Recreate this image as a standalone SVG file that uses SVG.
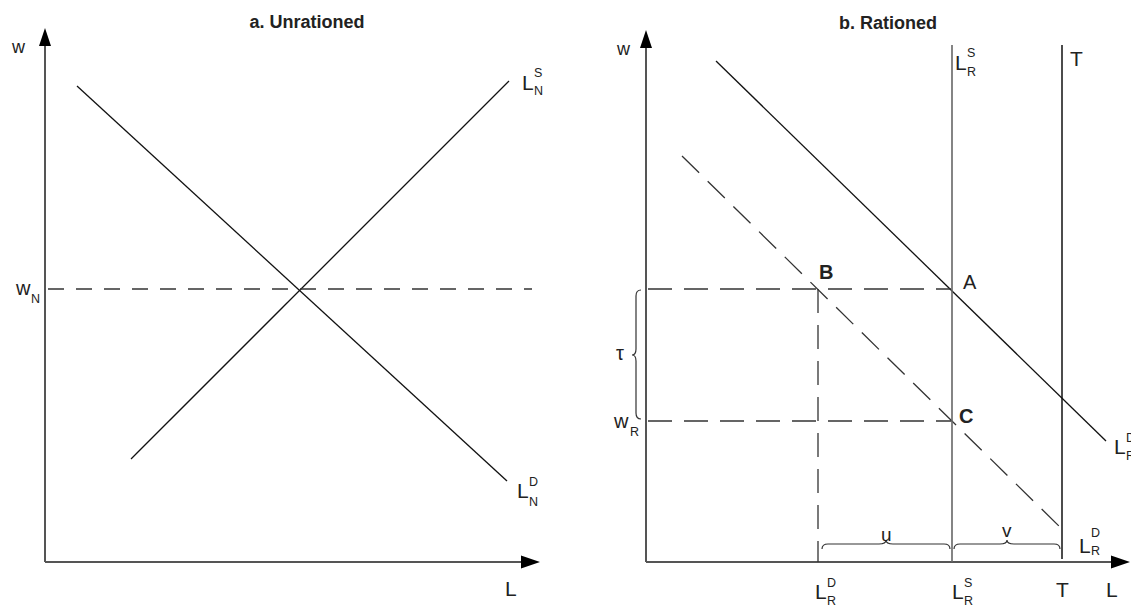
<svg xmlns="http://www.w3.org/2000/svg" width="1131" height="608" viewBox="0 0 1131 608">
<style>
text{font-family:"Liberation Sans",Arial,sans-serif;fill:#222}
.t{font-weight:bold;font-size:18px;text-anchor:middle}
.L{font-size:21px}
.s{font-size:12.5px}
.w{font-size:20px}
.ax{stroke:#555;stroke-width:2;fill:none}
.ln{stroke:#111;stroke-width:1.3;fill:none}
.gv{stroke:#666;stroke-width:1.6;fill:none}
.ds{stroke:#333;stroke-width:1.3;fill:none;stroke-dasharray:24 12}
.br{stroke:#333;stroke-width:1.2;fill:none}
.ah{fill:#000}
</style>
<rect width="1131" height="608" fill="#fff"/>
<g id="titles">
<text class="t" x="307" y="28">a. Unrationed</text>
<text class="t" x="888" y="29">b. Rationed</text>
</g>
<g id="axes-a">
<path class="ax" d="M45,562 V44 M45,562 H522"/>
<path class="ah" d="M45,28 L39,46 L51,46 Z M540,562 L521,555.5 L521,568.5 Z"/>
<text x="12" y="53" style="font-size:18px">w</text>
<text class="L" x="505" y="596">L</text>
</g>
<g id="axes-b">
<path class="ax" d="M646,562 V46 M646,562 H1112"/>
<path class="ah" d="M646,30 L640,48 L652,48 Z M1130,562 L1111,555.5 L1111,568.5 Z"/>
<text x="617" y="55" style="font-size:18px">w</text>
<text class="L" x="1106" y="597">L</text>
</g>
<g id="connectors">
<path class="ln" d="M131,459 L509,81"/>
<path class="ln" d="M77,86 L507,481"/>
<path class="ds" d="M48,289 H532" style="stroke-dasharray:16 12"/>
<path class="ln" d="M716,61 L1106,441"/>
<path class="ds" d="M682,156 L1065,532"/>
<path class="ds" d="M648,289 H951"/>
<path class="ds" d="M648,421 H951"/>
<path class="ds" d="M818,289 V562"/>
<path class="gv" d="M952,45 V562"/>
<path class="ln" d="M1062,45 V559" style="stroke-width:1.5"/>
<path class="br" d="M641,290 q-5,0 -5,6 V349 q0,6 -4,6 q4,0 4,6 V413 q0,6 5,6"/>
<path class="br" d="M822,549 q0,-5 6,-5 H879 q7,0 7,-4 q0,4 7,4 H944 q6,0 6,5"/>
<path class="br" d="M954,549 q0,-5 6,-5 H1000 q7,0 7,-4 q0,4 7,4 H1054 q6,0 6,5"/>
</g>
<g id="label-LSN"><text class="L" x="522" y="90">L</text><text class="s" x="534" y="77">S</text><text class="s" x="534" y="95">N</text></g>
<g id="label-LDN"><text class="L" x="517" y="498">L</text><text class="s" x="529" y="486">D</text><text class="s" x="529" y="506">N</text></g>
<g id="label-wN"><text class="w" x="16" y="295">w</text><text class="s" x="31" y="303">N</text></g>
<g id="label-LSR-top"><text class="L" x="955" y="70">L</text><text class="s" x="967" y="57">S</text><text class="s" x="967" y="76">R</text></g>
<g id="label-T-top"><text class="L" x="1070" y="66">T</text></g>
<g id="label-LDR-solid"><text class="L" x="1114" y="454">L</text><text class="s" x="1126" y="442">D</text><text class="s" x="1126" y="460">R</text></g>
<g id="label-LDR-dashed"><text class="L" x="1079" y="553">L</text><text class="s" x="1091" y="537">D</text><text class="s" x="1091" y="555">R</text></g>
<g id="label-LDR-axis"><text class="L" x="815" y="599">L</text><text class="s" x="827" y="587">D</text><text class="s" x="827" y="605">R</text></g>
<g id="label-LSR-axis"><text class="L" x="952" y="599">L</text><text class="s" x="964" y="587">S</text><text class="s" x="964" y="605">R</text></g>
<g id="label-T-axis"><text class="L" x="1056" y="597">T</text></g>
<g id="label-wR"><text class="w" x="614" y="428">w</text><text class="s" x="630" y="436">R</text></g>
<g id="label-tau"><text x="616" y="360" style="font-size:20px">τ</text></g>
<g id="point-A"><text class="w" x="963" y="289">A</text></g>
<g id="point-B"><text class="w" x="819" y="279" style="font-weight:bold">B</text></g>
<g id="point-C"><text class="w" x="959" y="423" style="font-weight:bold">C</text></g>
<g id="label-u"><text x="881" y="541" style="font-size:19px">u</text></g>
<g id="label-v"><text x="1002" y="537" style="font-size:19px">v</text></g>
</svg>
